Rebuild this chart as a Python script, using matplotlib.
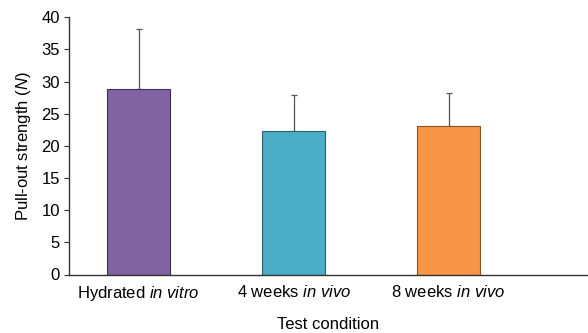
import matplotlib
matplotlib.use("Agg")
import matplotlib.pyplot as plt

plt.rcParams["font.family"] = "Liberation Sans"
plt.rcParams["mathtext.fontset"] = "custom"
plt.rcParams["mathtext.rm"] = "Liberation Sans"
plt.rcParams["mathtext.it"] = "Liberation Sans:italic"

# Values
conditions = [r"Hydrated $\it{in\ vitro}$", r"4 weeks $\it{in\ vivo}$", r"8 weeks $\it{in\ vivo}$"]
means = [28.9, 22.3, 23.1]
upper_err = [9.3, 5.6, 5.2]
colors = ["#8064A2", "#4BACC6", "#F79646"]
edges = ["#3f2f55", "#2a6070", "#8a5020"]

fig = plt.figure(figsize=(5.88, 3.33), dpi=100)
ax = fig.add_axes([69 / 588, 1 - 274.5 / 333, 1 - 69 / 588, (274.5 - 17.3) / 333])

x = range(len(conditions))
ax.bar(x, means, width=0.405, color=colors, edgecolor=edges, linewidth=0.8, zorder=2)
ax.errorbar(x, means, yerr=[[0, 0, 0], upper_err], fmt="none", ecolor="#555555",
            elinewidth=0.9, capsize=2.5, capthick=0.9, zorder=1)

ax.set_xlim(-0.45, 2.9)
ax.set_ylim(0, 40)
ax.set_yticks(range(0, 41, 5))
ax.set_xticks(list(x))
ax.set_xticklabels(conditions, fontsize=12)
ax.tick_params(axis="x", length=0, pad=7)
ax.tick_params(axis="y", length=3.5, labelsize=12, pad=3, color="#333333")
ax.spines["top"].set_visible(False)
ax.spines["right"].set_visible(False)
for s in ["left", "bottom"]:
    ax.spines[s].set_color("#333333")
    ax.spines[s].set_linewidth(1.0)

ax.set_xlabel("Test condition", fontsize=12, labelpad=10)
ax.set_ylabel(r"Pull-out strength ($\it{N}$)", fontsize=12, labelpad=6)

fig.savefig("out.png", dpi=100)
